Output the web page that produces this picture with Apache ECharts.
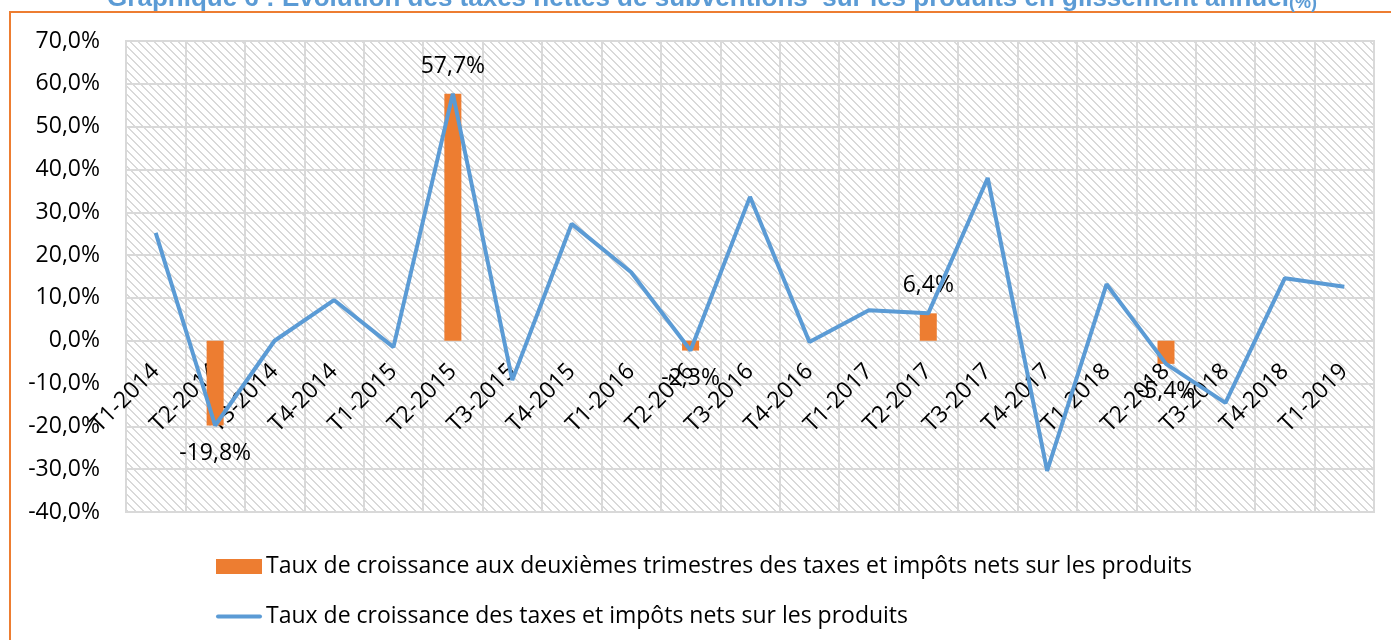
<!DOCTYPE html>
<html>
<head>
<meta charset="utf-8">
<script src="https://cdn.jsdelivr.net/npm/echarts@6/dist/echarts.min.js"></script>
<style>
html,body{margin:0;padding:0;background:#fff;}
#chart{width:1391px;height:640px;}
</style>
</head>
<body>
<div id="chart"></div>
<script>
const categories = ["T1-2014","T2-2014","T3-2014","T4-2014","T1-2015","T2-2015","T3-2015","T4-2015","T1-2016","T2-2016","T3-2016","T4-2016","T1-2017","T2-2017","T3-2017","T4-2017","T1-2018","T2-2018","T3-2018","T4-2018","T1-2019"];
const barValues = [null,-19.8,null,null,null,57.7,null,null,null,-2.3,null,null,null,6.4,null,null,null,-5.4,null,null,null];
const lineValues = [25.2,-19.8,0.0,9.5,-1.5,57.7,-9.2,27.3,16.0,-2.3,33.6,-0.3,7.1,6.4,38.0,-30.4,13.2,-5.4,-14.5,14.6,12.6];
const barName = "Taux de croissance aux deuxièmes trimestres des taxes et impôts nets sur les produits";
const lineName = "Taux de croissance des taxes et impôts nets sur les produits";
const titleMain = "Graphique 6 : Evolution des taxes nettes de subventions  sur les produits en glissement annuel";
const titleSuffix = "(%)";

const FONT = "'Open Sans', 'Noto Sans', sans-serif";
const FS = 23;
const fmt = v => v.toFixed(1).replace('.', ',') + '%';

// hatch pattern
const pc = document.createElement('canvas');
pc.width = 8; pc.height = 8;
const pctx = pc.getContext('2d');
pctx.fillStyle = '#ffffff';
pctx.fillRect(0,0,8,8);
pctx.fillStyle = '#d9d9d9';
for (let i = 0; i < 8; i++) {
  pctx.fillRect(i, i, 1, 1);
  pctx.fillRect((i + 1) % 8, i, 1, 1);
}

const GRID_TOP = 41, GRID_BOTTOM = 128, H = 640;
const Y_MIN = -40, Y_MAX = 70;
const plotH = H - GRID_TOP - GRID_BOTTOM;
const zeroOffset = -plotH * (0 - Y_MIN) / (Y_MAX - Y_MIN);

const chart = echarts.init(document.getElementById('chart'), null, {renderer: 'canvas'});
const barData = barValues.map(v => v === null ? null : {
  value: v,
  label: {position: v >= 0 ? 'top' : 'bottom'}
});
chart.setOption({
  animation: false,
  textStyle: {fontFamily: FONT},
  graphic: [
    {type: 'rect', shape: {x: 10, y: 12, width: 1400, height: 700},
     style: {fill: 'none', stroke: '#ED7D31', lineWidth: 2}, z: -1},
    {type: 'text', x: 712, y: 12,
     style: {text: '{a|' + titleMain + '}{b|' + titleSuffix + '}', align: 'center', verticalAlign: 'bottom',
       rich: {
         a: {font: "bold 26px 'Liberation Sans', Arial, sans-serif", fill: '#5B9BD5'},
         b: {font: "bold 18px 'Liberation Sans', Arial, sans-serif", fill: '#5B9BD5', verticalAlign: 'bottom'}
       }}}
  ],
  grid: {left: 126, right: 17, top: GRID_TOP, bottom: GRID_BOTTOM, show: true,
    borderColor: '#d9d9d9', borderWidth: 2,
    backgroundColor: {image: pc, repeat: 'repeat'}},
  legend: {
    orient: 'vertical', left: 211, top: 550, itemGap: 27,
    itemWidth: 46, itemHeight: 15,
    textStyle: {fontSize: FS, color: '#000', fontFamily: FONT, padding: [0,0,0,-1]},
    data: [
      {name: barName, icon: 'rect'},
      {name: lineName, icon: 'path://M2,0 L44,0 A2,2 0 0 1 44,4 L2,4 A2,2 0 0 1 2,0 Z'}
    ]
  },
  xAxis: {
    type: 'category', data: categories, position: 'bottom', offset: zeroOffset,
    axisLine: {show: false, onZero: false},
    axisTick: {show: false},
    splitLine: {show: true, lineStyle: {color: '#d9d9d9', width: 2}},
    axisLabel: {rotate: 45, interval: 0, margin: 27, fontSize: FS, color: '#000', fontFamily: FONT}
  },
  yAxis: {
    type: 'value', min: Y_MIN, max: Y_MAX, interval: 10,
    axisLine: {show: false}, axisTick: {show: false},
    splitLine: {show: true, lineStyle: {color: '#d9d9d9', width: 2}},
    axisLabel: {formatter: v => fmt(v), fontSize: FS, color: '#000', margin: 26, fontFamily: FONT}
  },
  series: [
    {name: barName, type: 'bar', data: barData, barWidth: 17,
     itemStyle: {color: '#ED7D31'},
     label: {show: true, distance: 16, fontSize: FS, color: '#000', fontFamily: FONT,
       formatter: p => fmt(p.value)}},
    {name: lineName, type: 'line', data: lineValues, symbol: 'none', showSymbol: false,
     lineStyle: {color: '#5B9BD5', width: 4}, itemStyle: {color: '#5B9BD5'}}
  ]
});
</script>
</body>
</html>
